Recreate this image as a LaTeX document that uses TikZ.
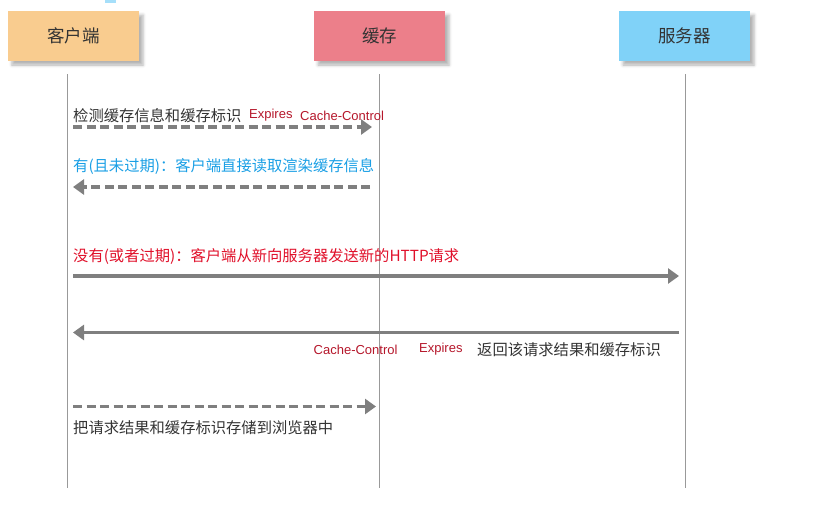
\documentclass[tikz,border=0pt]{standalone}
\usepackage{fontspec}
\setmainfont{Liberation Sans}
\newfontfamily\cjk{Noto Sans CJK SC}
\usetikzlibrary{arrows.meta,shadows.blur}
\definecolor{txtgray}{HTML}{333333}
\definecolor{arrgray}{HTML}{7F7F7F}
\definecolor{lifegray}{HTML}{999999}
\definecolor{clientc}{HTML}{F9CC8F}
\definecolor{cachec}{HTML}{EC7F8A}
\definecolor{serverc}{HTML}{80D2F8}
\definecolor{bluet}{HTML}{1A9FE5}
\definecolor{redt}{HTML}{E0102A}
\definecolor{redsmall}{HTML}{B5172B}
\begin{document}
\begin{tikzpicture}[x=1pt,y=-1pt,
  actor/.style={rectangle,minimum width=131pt,minimum height=50pt,inner sep=0pt,
    font=\cjk\fontsize{17.5}{19}\selectfont,text=txtgray,
    blur shadow={shadow xshift=4pt,shadow yshift=-4pt,shadow blur radius=3pt,shadow opacity=30}},
  lifeline/.style={draw=lifegray,line width=1pt},
  msg/.style={draw=arrgray,line width=3.5pt,-{Triangle[length=11pt,width=15pt]}},
  dmsg/.style={msg,dash pattern=on 9pt off 4.5pt},
  cjklab/.style={font=\cjk\fontsize{15.3}{17}\selectfont,inner sep=0pt,anchor=west},
  redlab/.style={font=\fontsize{13}{15}\selectfont,text=redsmall,inner sep=0pt,anchor=west}
]
\useasboundingbox (0,0) rectangle (836,512);
\fill[serverc!70] (105,0) rectangle (116,3);
% actors
\node[actor,fill=clientc] (client) at (73.5,36) {客户端};
\node[actor,fill=cachec] (cache) at (379.5,36) {缓存};
\node[actor,fill=serverc] (server) at (684.5,36) {服务器};
% lifelines
\coordinate (ct) at (67.5,74); \coordinate (cb) at (67.5,488);
\coordinate (kt) at (379.5,74); \coordinate (kb) at (379.5,488);
\coordinate (st) at (685.5,74); \coordinate (sb) at (685.5,488);
\draw[lifeline] (ct) -- (cb);
\draw[lifeline] (kt) -- (kb);
\draw[lifeline] (st) -- (sb);
% message anchors
\coordinate (a1s) at (73,127); \coordinate (a1e) at (372,127);
\coordinate (a2s) at (370,187); \coordinate (a2e) at (73,187);
\coordinate (a3s) at (73,276); \coordinate (a3e) at (679,276);
\coordinate (a4s) at (679,332.5); \coordinate (a4e) at (73,332.5);
\coordinate (a5s) at (73,406.5); \coordinate (a5e) at (376,406.5);
\draw[dmsg] (a1s) -- (a1e);
\draw[dmsg] (a2s) -- (a2e);
\draw[msg] (a3s) -- (a3e);
\draw[msg] (a4s) -- (a4e);
\draw[dmsg] (a5s) -- (a5e);
% labels
\node[cjklab,text=txtgray] (l1) at (73,115.5) {检测缓存信息和缓存标识};
\node[redlab] (l1a) at (249,115.5) {Expires};
\node[redlab] (l1b) at (300,115.5) {Cache-Control};
\node[cjklab,text=bluet] (l2) at (73,166) {有(且未过期)：客户端直接读取渲染缓存信息};
\node[cjklab,text=redt] (l3) at (73,256) {没有(或者过期)：客户端从新向服务器发送新的HTTP请求};
\node[redlab] (l4a) at (313.5,349.5) {Cache-Control};
\node[redlab] (l4b) at (419,349.5) {Expires};
\node[cjklab,text=txtgray] (l4c) at (477,349.5) {返回该请求结果和缓存标识};
\node[cjklab,text=txtgray] (l5) at (73,428) {把请求结果和缓存标识存储到浏览器中};
\end{tikzpicture}
\end{document}
